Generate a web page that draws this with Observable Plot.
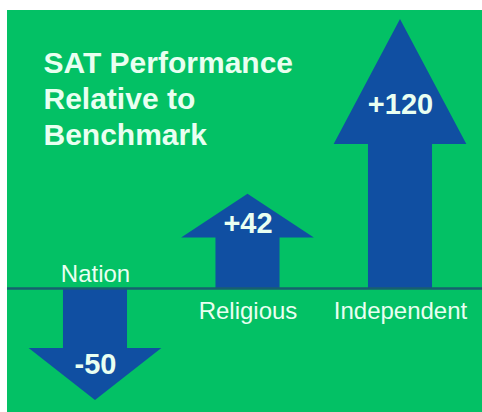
<!DOCTYPE html>
<html>
<head>
<meta charset="utf-8">
<script src="https://cdn.jsdelivr.net/npm/d3@7"></script>
<script src="https://cdn.jsdelivr.net/npm/@observablehq/plot@0.6"></script>
<style>
  html, body { margin: 0; padding: 0; background: #ffffff; }
  #chart svg { display: block; margin: 10px 0 0 7px; }
</style>
</head>
<body>
<div id="chart"></div>
<script>
const categories = ["Nation", "Religious", "Independent"];
const values = [-50, 42, 120];
const valueLabels = ["-50", "+42", "+120"];
const titleLines = ["SAT Performance", "Relative to", "Benchmark"];

const GREEN = "#03c165";
const BLUE = "#104fa2";
const LINE = "#17606f";
const TEXT = "#e9fff1";
const SHAFT = 0.21;   // half shaft width in category units
const HEADW = 0.435;  // half head width in category units
const HEAD = 0.465;   // head length as share of arrow length

const rows = categories.map((c, i) => ({i, c, v: values[i], label: valueLabels[i]}));

const arrows = rows.flatMap(d => {
  const hb = d.v * (1 - HEAD);
  return [
    {cat: d.c, y: 0, x1: d.i - SHAFT, x2: d.i + SHAFT},
    {cat: d.c, y: hb, x1: d.i - SHAFT, x2: d.i + SHAFT},
    {cat: d.c, y: hb, x1: d.i - HEADW, x2: d.i + HEADW},
    {cat: d.c, y: d.v, x1: d.i, x2: d.i}
  ];
});

const chart = Plot.plot({
  width: 475,
  height: 402,
  marginTop: 0, marginRight: 0, marginBottom: 0, marginLeft: 0,
  x: {type: "linear", domain: [0, 2], range: [88, 393], axis: null},
  y: {domain: [-50, 120], range: [390, 9], axis: null},
  style: {background: GREEN, fontFamily: "'Liberation Sans', Arial, sans-serif", color: TEXT},
  marks: [
    Plot.areaX(arrows, {y: "y", x1: "x1", x2: "x2", z: "cat", fill: BLUE}),
    Plot.ruleY([0], {stroke: LINE, strokeWidth: 2.5}),
    Plot.text(rows.filter(d => d.v >= 0), {x: "i", y: 0, text: "c", dy: 31, lineAnchor: "bottom", fontSize: 24, fill: TEXT}),
    Plot.text(rows.filter(d => d.v < 0), {x: "i", y: 0, text: "c", dy: -6, lineAnchor: "bottom", fontSize: 24, fill: TEXT}),
    Plot.text(rows, {x: "i", y: d => d.v * (1 - HEAD * 0.68), text: "label", fontSize: 29, fontWeight: "bold", fill: TEXT}),
    Plot.text([titleLines.join("\n")], {frameAnchor: "top-left", dx: 36, dy: 37, text: d => d, fontSize: 30, fontWeight: "bold", lineHeight: 1.2, fill: TEXT})
  ]
});
document.getElementById("chart").appendChild(chart);
</script>
</body>
</html>
